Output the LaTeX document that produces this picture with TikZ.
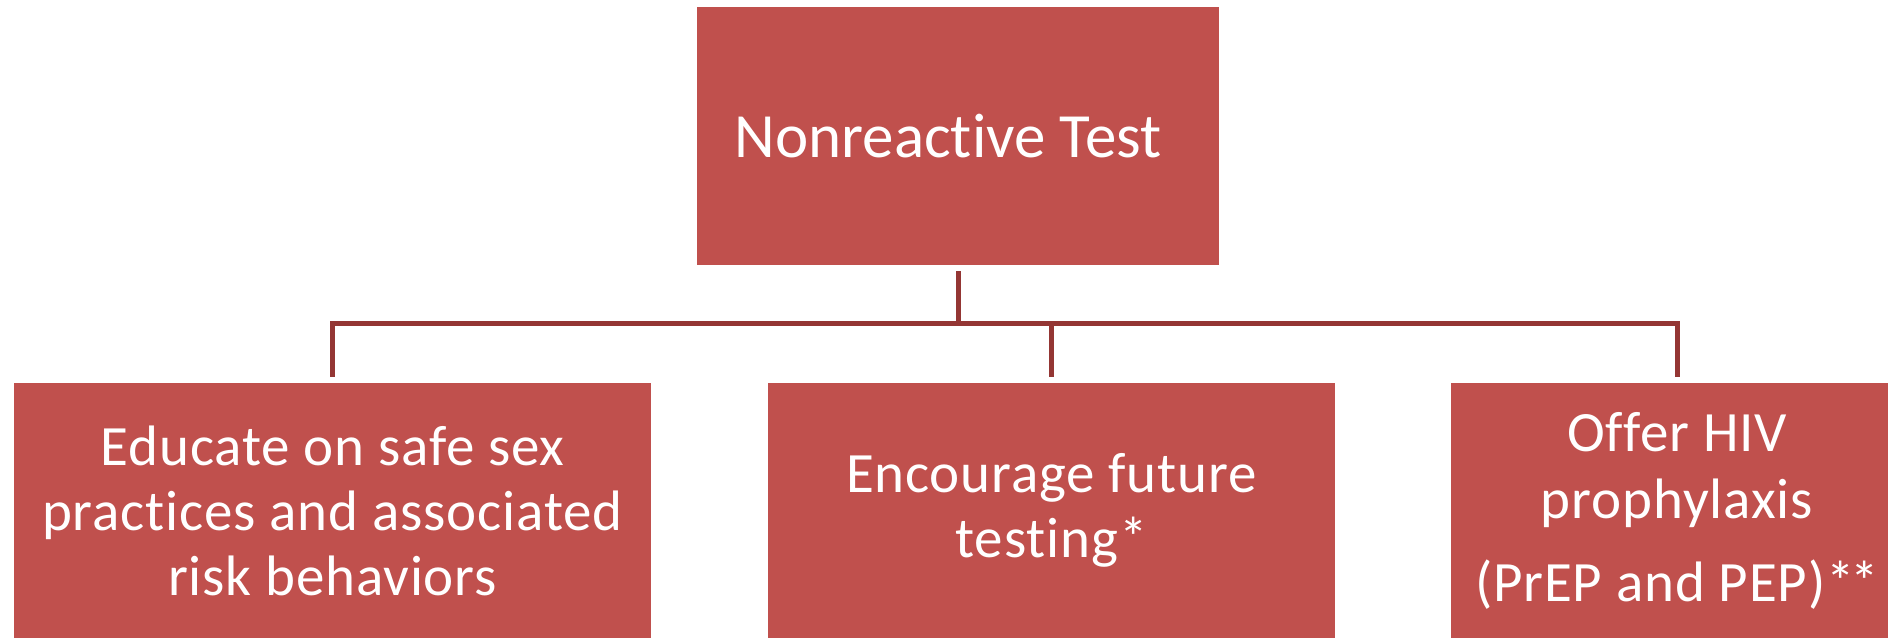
\documentclass[tikz,border=0pt]{standalone}
\usepackage{fontspec}
\setmainfont{Carlito}[Ligatures=NoCommon]
\newfontfamily\boxfont{Carlito}[Ligatures=NoCommon, LetterSpace=1.5]
\definecolor{boxred}{RGB}{192,80,77}
\definecolor{linkred}{RGB}{148,54,52}

\begin{document}
\begin{tikzpicture}[x=1pt, y=-1pt,
  box/.style={fill=boxred, text=white, align=center, inner sep=0pt,
    minimum height=255, font=\boxfont\fontsize{57}{65}\selectfont},
  link/.style={linkred, line width=5pt, shorten <=6pt, shorten >=6pt}]
  \def\busy{323};
  \useasboundingbox (0,0) rectangle (1888,638);
  %top
  \node[box, minimum width=522, minimum height=258,
    font=\fontsize{63}{72}\selectfont] (test) at (958,136)
    {Nonreactive Test\hspace*{20pt}};
  %children
  \node[box, minimum width=637] (educate) at (332.5,510.5)
    {Educate on safe sex\\practices and associated\\risk behaviors};
  \node[box, minimum width=567] (encourage) at (1051.5,510.5)
    {Encourage future\\testing*};
  \node[box, minimum width=452, font=\boxfont\fontsize{57}{67}\selectfont]
    (offer) at (1677,510.5)
    {Offer HIV\\prophylaxis\\[16pt](PrEP and PEP)*\kern-4pt*};
  \coordinate (bus) at (0,\busy);
  \foreach \child in {educate,encourage,offer}
    \draw[link] (test.south) -- (test.south |- bus) -| (\child.north);
\end{tikzpicture}
\end{document}
